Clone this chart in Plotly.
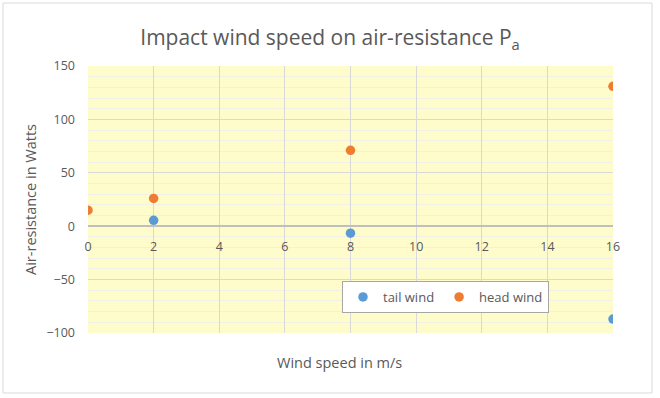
import plotly.graph_objects as go

tail_x = [2, 8, 16]
tail_y = [5.5, -6.5, -87]
head_x = [0, 2, 8, 16]
head_y = [15, 26, 71, 131]

title_text = "Impact wind speed on air-resistance P<sub>a</sub>"
x_title = "Wind speed in m/s"
y_title = "Air-resistance in Watts"

W, H = 660, 398
ml, mr, mt, mb = 88, 47, 66, 65
pw, ph = W - ml - mr, H - mt - mb
ymin, ymax = -100, 150
zero_pos = (0 - ymin) / (ymax - ymin)

font = "Open Sans"
grey = "#595959"

fig = go.Figure()
fig.add_trace(go.Scatter(x=tail_x, y=tail_y, mode="markers", name="tail wind",
                         marker=dict(color="#5B9BD5", size=9.5)))
fig.add_trace(go.Scatter(x=head_x, y=head_y, mode="markers", name="head wind",
                         marker=dict(color="#ED7D31", size=9.5)))

def px(xp):
    return (xp - ml) / pw

def py(yp):
    return (H - mb - yp) / ph

fig.update_layout(
    width=W, height=H,
    margin=dict(l=ml, r=mr, t=mt, b=mb, autoexpand=False),
    paper_bgcolor="white",
    plot_bgcolor="#FFFCCC",
    font=dict(family=font, color=grey, size=12),
    title=dict(text=title_text, x=0.5, xanchor="center", y=1 - 38 / H, yanchor="middle",
               font=dict(size=21, color=grey, family=font)),
    xaxis=dict(range=[0, 16], dtick=2, showgrid=True, gridcolor="#D9D9D9", gridwidth=1,
               zeroline=False, anchor="free", position=zero_pos, showline=True,
               linecolor="#BFBFBF", linewidth=1.5, ticks="", ticklabelstandoff=9,
               tickfont=dict(size=12.5, color=grey)),
    yaxis=dict(range=[ymin, ymax], dtick=50, showgrid=True, gridcolor="#D9D9D9", gridwidth=1,
               zeroline=False, ticks="", ticklabelstandoff=12,
               tickfont=dict(size=12.5, color=grey),
               minor=dict(dtick=10, showgrid=True, gridcolor="#F1F0E6", gridwidth=1),
               title=dict(text=y_title, standoff=6, font=dict(size=14.5, color=grey))),
    legend=dict(orientation="h", x=px(342), y=py(281), xanchor="left", yanchor="top",
                bgcolor="white", bordercolor="#A6A6A6", borderwidth=1,
                font=dict(size=13, color=grey), itemwidth=30,
                traceorder="normal"),
    showlegend=True,
)
fig.add_annotation(text=x_title, xref="paper", yref="paper", x=px(339), y=py(362),
                   xanchor="center", yanchor="middle", showarrow=False,
                   font=dict(size=14.5, color=grey))
fig.add_shape(type="rect", xref="paper", yref="paper", x0=px(3), x1=px(652), y0=py(393), y1=py(3),
              line=dict(color="#D9D9D9", width=1), layer="below")

fig.write_html("out.html", config={"displayModeBar": False},
               post_script="document.body.style.margin='0';")
